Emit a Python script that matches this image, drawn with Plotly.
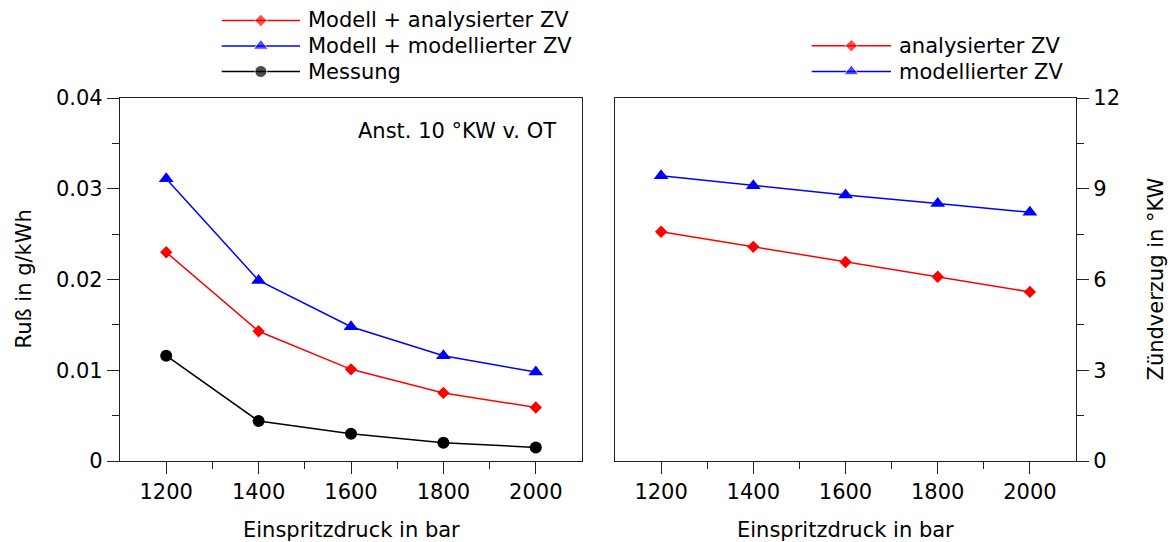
import plotly.graph_objects as go

# ---------------- data ----------------
pressure = [1200, 1400, 1600, 1800, 2000]
soot_model_analysed = [0.0230, 0.0143, 0.0101, 0.0075, 0.0059]
soot_model_modelled = [0.0311, 0.0199, 0.0148, 0.0116, 0.0098]
soot_measured = [0.0116, 0.0044, 0.0030, 0.0020, 0.0015]
zv_analysed = [7.58, 7.08, 6.58, 6.09, 5.59]
zv_modelled = [9.43, 9.10, 8.79, 8.51, 8.22]

name_l1 = "Modell + analysierter ZV"
name_l2 = "Modell + modellierter ZV"
name_l3 = "Messung"
name_r1 = "analysierter ZV"
name_r2 = "modellierter ZV"

x_ticks = [1200, 1400, 1600, 1800, 2000]
x_minor = [1300, 1500, 1700, 1900]
soot_ticks = [0, 0.01, 0.02, 0.03, 0.04]
soot_ticktext = ["0", "0.01", "0.02", "0.03", "0.04"]
soot_minor = [0.005, 0.015, 0.025, 0.035]
zv_ticks = [0, 3, 6, 9, 12]
zv_minor = [1.5, 4.5, 7.5, 10.5]

# ---------------- style ----------------
W, H = 1175, 542
FONT = "DejaVu Sans"
FS = 21
AX = "#222222"
RED, BLUE, BLACK = "#ff0000", "#0000ff", "#000000"
LW = 1.5


def px(x):
    return x / W


def py(y):
    return 1 - y / H


styles = {
    "red": dict(color=RED, symbol="diamond", size=9.5),
    "blue": dict(color=BLUE, symbol="triangle-up", size=13),
    "black": dict(color=BLACK, symbol="circle", size=12),
}

fig = go.Figure()


def add_series(x, y, st, xa, ya):
    s = styles[st]
    fig.add_trace(go.Scatter(
        x=x, y=y, mode="lines+markers", xaxis=xa, yaxis=ya, showlegend=False,
        line=dict(color=s["color"], width=LW),
        marker=dict(color=s["color"], symbol=s["symbol"], size=s["size"]),
        cliponaxis=False,
    ))


add_series(pressure, soot_model_analysed, "red", "x", "y")
add_series(pressure, soot_model_modelled, "blue", "x", "y")
add_series(pressure, soot_measured, "black", "x", "y")
add_series(pressure, zv_analysed, "red", "x2", "y2")
add_series(pressure, zv_modelled, "blue", "x2", "y2")

# ---------------- custom legends (overlay axis in pixel units) ----------------
legend_items = [
    (name_l1, "red", 221.7, 300, 306, 20.5),
    (name_l2, "blue", 221.7, 300, 306, 46.0),
    (name_l3, "black", 221.7, 300, 306, 71.5),
    (name_r1, "red", 811.7, 891, 897, 45.7),
    (name_r2, "blue", 811.7, 891, 897, 71.5),
]
annotations = []
for name, st, x0, x1, xt, yy in legend_items:
    s = styles[st]
    fig.add_trace(go.Scatter(
        x=[x0, (x0 + x1) / 2, x1], y=[yy, yy, yy], mode="lines+markers",
        xaxis="x3", yaxis="y3", showlegend=False, hoverinfo="skip",
        line=dict(color=s["color"], width=LW),
        marker=dict(color=s["color"], symbol=s["symbol"], size=[0, s["size"], 0]),
        cliponaxis=False,
    ))
    annotations.append(dict(
        x=px(xt), y=py(yy), xref="paper", yref="paper", text=name,
        showarrow=False, xanchor="left", yanchor="middle",
        font=dict(family=FONT, size=FS, color="black"),
    ))

# axis titles and inner note
annotations += [
    dict(x=px(351), y=py(530), xref="paper", yref="paper", text="Einspritzdruck in bar",
         showarrow=False, xanchor="center", yanchor="middle",
         font=dict(family=FONT, size=FS, color="black")),
    dict(x=px(845.5), y=py(530), xref="paper", yref="paper", text="Einspritzdruck in bar",
         showarrow=False, xanchor="center", yanchor="middle",
         font=dict(family=FONT, size=FS, color="black")),
    dict(x=px(23), y=py(279.5), xref="paper", yref="paper", text="Ruß in g/kWh",
         textangle=-90, showarrow=False, xanchor="center", yanchor="middle",
         font=dict(family=FONT, size=FS, color="black")),
    dict(x=px(1155), y=py(279.5), xref="paper", yref="paper", text="Zündverzug in °KW",
         textangle=-90, showarrow=False, xanchor="center", yanchor="middle",
         font=dict(family=FONT, size=FS, color="black")),
    dict(x=px(558), y=py(130.5), xref="paper", yref="paper", text="Anst. 10 °KW v. OT",
         showarrow=False, xanchor="right", yanchor="middle",
         font=dict(family=FONT, size=FS, color="black")),
]

common = dict(
    showline=True, linecolor=AX, linewidth=1.2, mirror=True,
    ticks="outside", ticklen=12, tickwidth=1.2, tickcolor=AX,
    showgrid=False, zeroline=False, fixedrange=True, automargin=False,
    tickfont=dict(family=FONT, size=FS, color="black"),
)


def minor(vals):
    return dict(tickmode="array", tickvals=vals, ticks="outside", ticklen=7,
                tickwidth=1.2, tickcolor=AX, showgrid=False)


ydom = [py(461), py(98)]

fig.update_layout(
    width=W, height=H, autosize=False,
    margin=dict(l=0, r=0, t=0, b=0, pad=0, autoexpand=False),
    paper_bgcolor="white", plot_bgcolor="rgba(0,0,0,0)",
    font=dict(family=FONT, size=FS, color="black"),
    showlegend=False,
    xaxis=dict(domain=[px(120), px(582)], range=[1100, 2100], anchor="y",
               tickmode="array", tickvals=x_ticks, minor=minor(x_minor), **common),
    yaxis=dict(domain=ydom, range=[0, 0.04], anchor="x",
               tickmode="array", tickvals=soot_ticks, ticktext=soot_ticktext,
               minor=minor(soot_minor), **common),
    xaxis2=dict(domain=[px(615), px(1076)], range=[1100, 2100], anchor="y2",
                tickmode="array", tickvals=x_ticks, minor=minor(x_minor), **common),
    yaxis2=dict(domain=ydom, range=[0, 12], anchor="x2", side="right",
                tickmode="array", tickvals=zv_ticks, minor=minor(zv_minor), **common),
    xaxis3=dict(domain=[0, 1], range=[0, W], visible=False, fixedrange=True,
                anchor="y3", automargin=False),
    yaxis3=dict(domain=[0, 1], range=[H, 0], visible=False, fixedrange=True,
                anchor="x3", automargin=False),
    annotations=annotations,
)

fig.write_html("out.html", config={"displayModeBar": False})
